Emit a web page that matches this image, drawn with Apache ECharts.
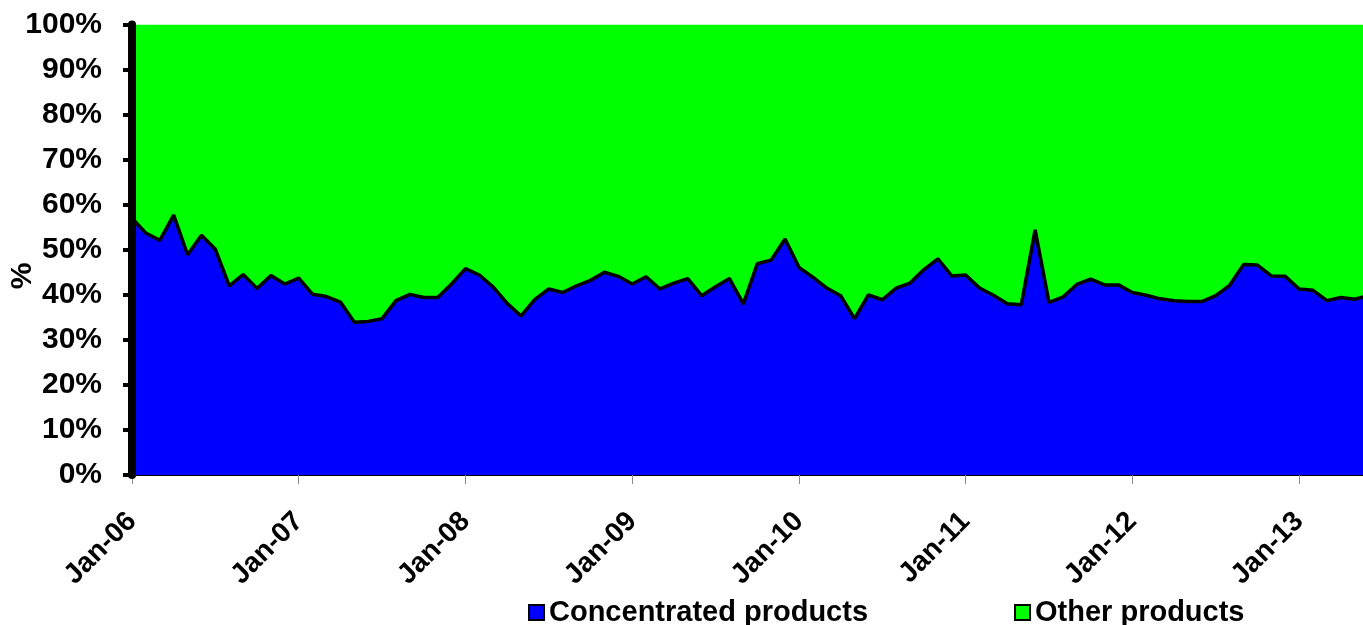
<!DOCTYPE html>
<html>
<head>
<meta charset="utf-8">
<script src="https://cdn.jsdelivr.net/npm/echarts@6/dist/echarts.min.js"></script>
<style>
html,body{margin:0;padding:0;background:#fff;}
#chart{width:1363px;height:625px;}
</style>
</head>
<body>
<div id="chart"></div>
<script>
// Monthly shares, Jan-06 .. Jun-13
var monthNames = ['Jan','Feb','Mar','Apr','May','Jun','Jul','Aug','Sep','Oct','Nov','Dec'];
var yearLabels = ['06','07','08','09','10','11','12','13'];
var concentratedProducts = [
  57.0,53.7,52.1,57.7,48.9,53.2,50.1,42.0,44.5,41.4,44.3,42.4,
  43.7,40.1,39.6,38.4,33.9,34.1,34.7,38.7,40.1,39.4,39.4,42.4,
  45.8,44.4,41.7,38.1,35.3,39.0,41.3,40.5,42.0,43.2,45.0,44.1,
  42.4,44.0,41.3,42.6,43.6,39.8,41.8,43.6,38.0,46.9,47.7,52.4,
  46.1,43.9,41.5,39.8,34.7,40.0,38.9,41.5,42.6,45.6,48.0,44.2,
  44.4,41.5,39.9,38.0,37.8,54.4,38.3,39.5,42.3,43.5,42.2,42.2,
  40.5,39.9,39.1,38.7,38.5,38.5,39.8,42.1,46.7,46.6,44.2,44.1,
  41.3,41.0,38.7,39.4,39.0,39.8
];
var otherProducts = [
  43.0,46.3,47.9,42.3,51.1,46.8,49.9,58.0,55.5,58.6,55.7,57.6,
  56.3,59.9,60.4,61.6,66.1,65.9,65.3,61.3,59.9,60.6,60.6,57.6,
  54.2,55.6,58.3,61.9,64.7,61.0,58.7,59.5,58.0,56.8,55.0,55.9,
  57.6,56.0,58.7,57.4,56.4,60.2,58.2,56.4,62.0,53.1,52.3,47.6,
  53.9,56.1,58.5,60.2,65.3,60.0,61.1,58.5,57.4,54.4,52.0,55.8,
  55.6,58.5,60.1,62.0,62.2,45.6,61.7,60.5,57.7,56.5,57.8,57.8,
  59.5,60.1,60.9,61.3,61.5,61.5,60.2,57.9,53.3,53.4,55.8,55.9,
  58.7,59.0,61.3,60.6,61.0,60.2
];
var seriesNames = ['Concentrated products','Other products'];
var yAxisTitle = '%';

// category labels: one per month
var categories = [];
for (var k = 0; k < concentratedProducts.length; k++) {
  categories.push(monthNames[k % 12] + '-' + yearLabels[Math.floor(k / 12)]);
}

var FONT = 'Liberation Sans, Arial, sans-serif';
var chart = echarts.init(document.getElementById('chart'));
chart.setOption({
  animation: false,
  backgroundColor: '#fff',
  grid: { left: 132, right: -5.6, top: 24.5, bottom: 150, containLabel: false, outerBoundsMode: 'none' },
  graphic: [{
    type: 'text', x: 23, y: 276, rotation: Math.PI / 2,
    style: { text: yAxisTitle, fill: '#000', font: 'bold 30px ' + FONT, align: 'center', verticalAlign: 'middle' }
  }],
  legend: {
    data: seriesNames,
    left: 523, top: 593,
    itemGap: 146,
    itemWidth: 15, itemHeight: 15,
    icon: 'rect',
    itemStyle: { borderColor: '#000', borderWidth: 2 },
    textStyle: { fontFamily: FONT, fontWeight: 'bold', fontSize: 29, color: '#000' }
  },
  xAxis: {
    type: 'category', data: categories, boundaryGap: false,
    axisLine: { show: true, lineStyle: { color: '#000', width: 2 } },
    axisTick: { show: true, length: 9, interval: function(i){ return i % 12 === 0; }, lineStyle: { color: '#888', width: 1 } },
    splitLine: { show: false },
    axisLabel: {
      rotate: 45, margin: 42,
      interval: function(i){ return i % 12 === 0; },
      fontFamily: FONT, fontWeight: 'bold', fontSize: 28, color: '#000'
    }
  },
  yAxis: {
    type: 'value', min: 0, max: 100, interval: 10, z: 10,
    axisLine: { show: true, lineStyle: { color: '#000', width: 8 } },
    axisTick: { show: true, length: 9, lineStyle: { color: '#000', width: 4 } },
    splitLine: { show: false },
    axisLabel: {
      margin: 30, fontFamily: FONT, fontWeight: 'bold', fontSize: 30, color: '#000',
      formatter: function(v){ return v + '%'; }
    }
  },
  series: [
    {
      name: seriesNames[0], type: 'line', stack: 'total', z: 4,
      symbol: 'none',
      data: concentratedProducts,
      itemStyle: { color: '#0000FF', borderColor: '#000', borderWidth: 2 },
      lineStyle: { color: '#000', width: 3.5 },
      areaStyle: { color: '#0000FF', opacity: 1 }
    },
    {
      name: seriesNames[1], type: 'line', stack: 'total', z: 3,
      symbol: 'none',
      data: otherProducts,
      itemStyle: { color: '#00FF00', borderColor: '#000', borderWidth: 2 },
      lineStyle: { width: 0, color: '#00FF00' },
      areaStyle: { color: '#00FF00', opacity: 1 }
    }
  ]
});
</script>
</body>
</html>
